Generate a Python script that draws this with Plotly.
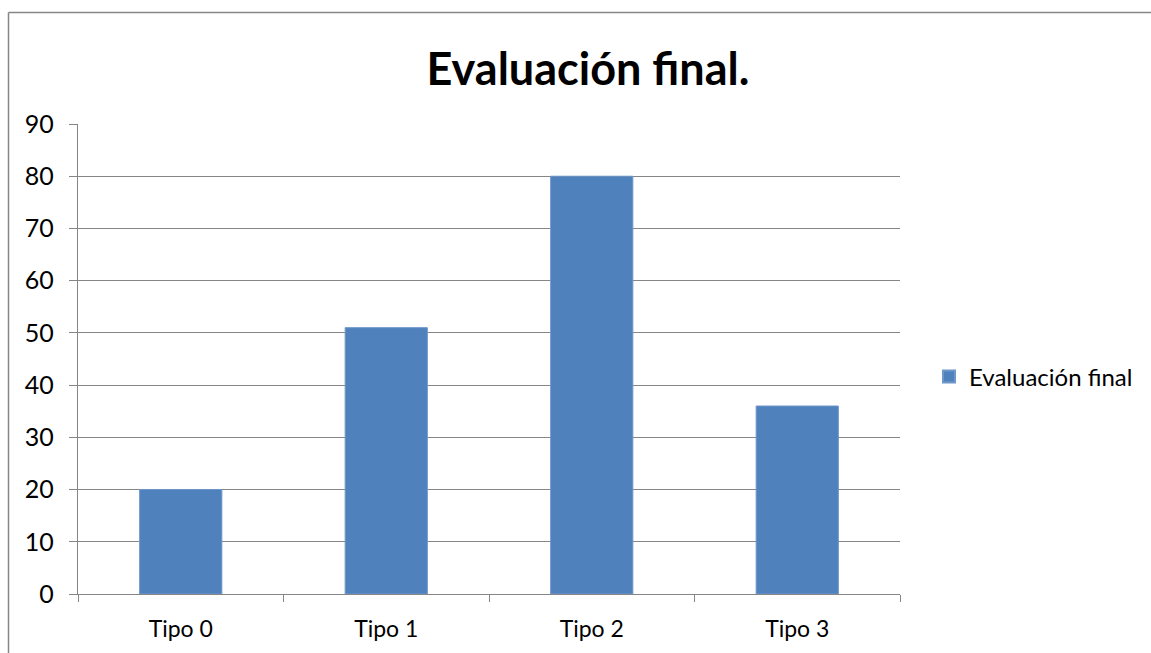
import plotly.graph_objects as go

categories = ["Tipo 0", "Tipo 1", "Tipo 2", "Tipo 3"]
values = [20, 51, 80, 36]
series_name = "Evaluación final"
title_text = "Evaluación final."

W, H = 1151, 653
L, R, T, B = 78, 251, 124, 59
pw, ph = W - L - R, H - T - B

def px_x(p):
    return (p - L) / pw

def px_y(p):
    return (H - B - p) / ph

FONT = "Lato, 'Open Sans', sans-serif"
GRID = "#868686"

fig = go.Figure()
fig.add_trace(go.Bar(
    x=categories, y=values, name=series_name,
    marker=dict(color="#4F81BD", line=dict(color="#6f97c9", width=1)),
    width=0.4, showlegend=True,
))

fig.update_layout(
    width=W, height=H,
    margin=dict(l=L, r=R, t=T, b=B, pad=0),
    paper_bgcolor="white", plot_bgcolor="white",
    font=dict(family=FONT, color="black", size=24),
    title=dict(text="<b>" + title_text + "</b>", x=588 / W, xanchor="center",
               y=1 - 69 / H, yanchor="middle",
               font=dict(size=45, family=FONT, color="black")),
    showlegend=True,
    legend=dict(x=px_x(929), y=px_y(377), xanchor="left", yanchor="middle",
                font=dict(size=24, family=FONT), itemsizing="constant",
                bgcolor="rgba(0,0,0,0)", traceorder="normal", itemwidth=30),
    bargap=0.6,
    xaxis=dict(
        type="category", showgrid=False, showline=True, linecolor=GRID, linewidth=1.3,
        ticks="outside", tickson="boundaries", ticklen=7, tickcolor=GRID,
        tickfont=dict(size=23, family=FONT), ticklabelstandoff=14,
        zeroline=False,
    ),
    yaxis=dict(
        range=[0, 90], dtick=10, showgrid=True, gridcolor=GRID, gridwidth=1.3,
        showline=True, linecolor=GRID, linewidth=1.3,
        ticks="outside", ticklen=8, tickcolor=GRID,
        tickfont=dict(size=25, family=FONT), ticklabelstandoff=10,
        zeroline=False,
    ),
    shapes=[
        dict(type="line", xref="paper", yref="paper",
             x0=px_x(8.5), x1=px_x(8.5), y0=px_y(12.5), y1=px_y(H + 5),
             line=dict(color="#868686", width=1.5)),
        dict(type="line", xref="paper", yref="paper",
             x0=px_x(8.5), x1=px_x(W + 5), y0=px_y(12.5), y1=px_y(12.5),
             line=dict(color="#868686", width=1.5)),
    ],
)

fig.write_html("out.html")
